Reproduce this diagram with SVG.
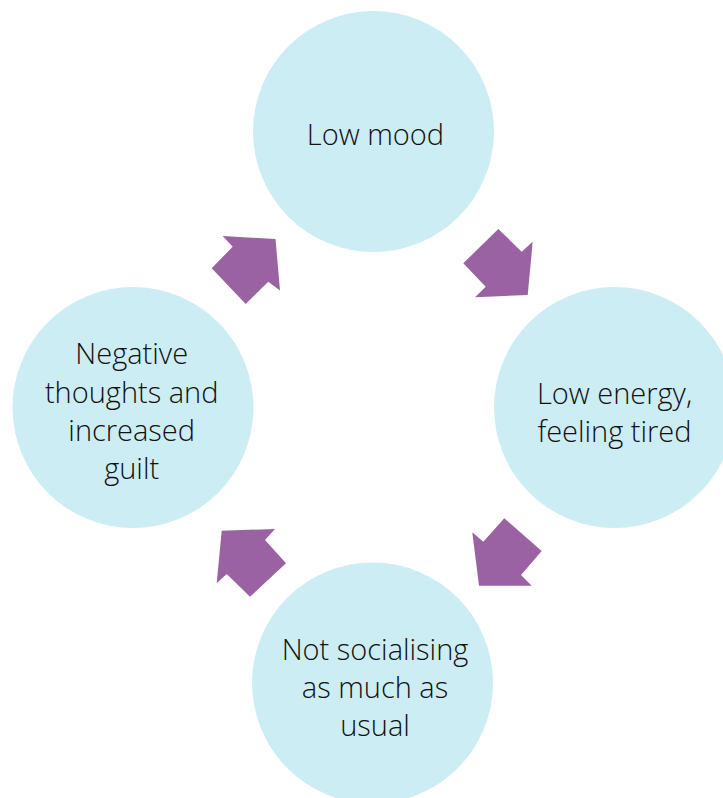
<svg xmlns="http://www.w3.org/2000/svg" width="723" height="798" viewBox="0 0 723 798">
<style>
.node circle{fill:#cdedf4}
.node text{font-family:"Open Sans","Noto Sans","Liberation Sans",sans-serif;font-size:29px;font-weight:360;fill:#111;text-anchor:middle}
.arrow{fill:#9b62a3}
</style>
<rect width="723" height="798" fill="#ffffff"/>
<g id="connectors">
<polygon class="arrow" points="222.7,236 275.5,239 280,290.5 268.3,281.7 245.7,304 211.7,268.3 232.7,246.7"/>
<polygon class="arrow" points="498.3,229 521.7,251.7 532.7,241.7 527.7,295 475,297.3 485.7,286.7 463.3,263.3"/>
<polygon class="arrow" points="504.3,518.3 541.7,551 521,575 531.7,585.7 479,585.7 472.3,532.3 483.3,541.7"/>
<polygon class="arrow" points="221.7,530.7 275,529 265,540 286,563.3 250,596.7 226.7,574 216.7,583.3"/>
</g>
<g id="node-low-mood" class="node">
<circle cx="373.5" cy="131.5" r="120.5"/>
<text x="375.5" y="145">Low mood</text>
</g>
<g id="node-low-energy" class="node">
<circle cx="614.5" cy="407.5" r="120.5"/>
<text x="614.5" y="404">Low energy,</text>
<text x="614.5" y="441.7">feeling tired</text>
</g>
<g id="node-not-socialising" class="node">
<circle cx="372.5" cy="683" r="120.5"/>
<text x="375" y="660">Not socialising</text>
<text x="375" y="698">as much as</text>
<text x="375" y="735.5">usual</text>
</g>
<g id="node-negative-thoughts" class="node">
<circle cx="133" cy="407.5" r="120.5"/>
<text x="131.7" y="364">Negative</text>
<text x="131.7" y="403">thoughts and</text>
<text x="131.7" y="440.7">increased</text>
<text x="131.7" y="479">guilt</text>
</g>
</svg>
